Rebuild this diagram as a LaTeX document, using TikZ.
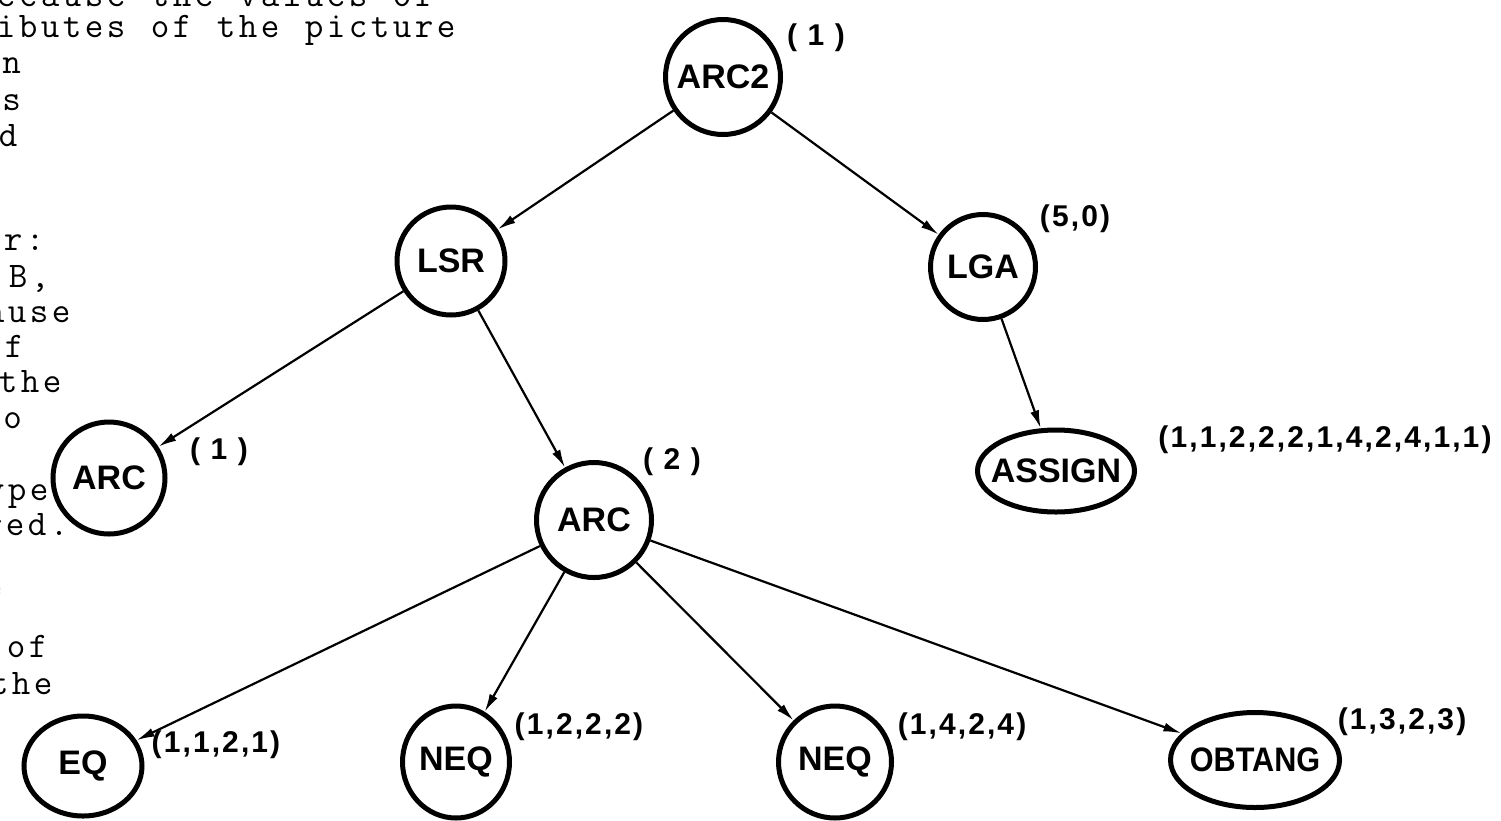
\documentclass[tikz,border=0pt]{standalone}
\usepackage{fontspec}
\usetikzlibrary{arrows.meta,shapes.geometric}
\newfontfamily\handfont{Liberation Sans}
\newfontfamily\tagfont{Liberation Sans}[LetterSpace=7]
% typewriter text on a fixed 22pt character grid
\newcommand\typecells[1]{\tcloop#1\relax}
\def\tcloop#1{\ifx\relax#1\else\hbox to 22pt{\hss#1\hss}\expandafter\tcloop\fi}
% label that does not widen its node
\newcommand\zerowide[1]{\makebox[0pt]{#1}}
\begin{document}
\begin{tikzpicture}[x=1pt,y=-1pt,
  vtx/.style={circle,draw,line width=5pt,inner sep=0pt,
    font=\handfont\bfseries\fontsize{34}{34}\selectfont},
  ovl/.style={ellipse,draw,line width=5pt,inner sep=0pt,
    font=\handfont\bfseries\fontsize{34}{34}\selectfont},
  edge/.style={line width=2.2pt,-{Latex[length=18pt,width=9pt]}},
  tag/.style={inner sep=0pt,font=\tagfont\bfseries\fontsize{30}{30}\selectfont},
  typ/.style={anchor=base west,inner sep=0pt,
    font=\ttfamily\fontsize{36}{36}\selectfont}]
\clip (0,0) rectangle (1501,820);
\fill[white] (0,0) rectangle (1501,820);

% running text of the page, cut at the left margin
\node[typ] (t1)  at (-5,6)    {\typecells{ecause~the~values~of}};
\node[typ] (t2)  at (-5,37)   {\typecells{ibutes~of~the~picture}};
\node[typ] (t3)  at (0.5,73)  {\typecells{n}};
\node[typ] (t4)  at (0.5,110) {\typecells{s}};
\node[typ] (t5)  at (-3,146)  {\typecells{d}};
\node[typ] (t6)  at (2,250)   {\typecells{r:}};
\node[typ] (t7)  at (7,287)   {\typecells{B,}};
\node[typ] (t8)  at (-16,322) {\typecells{ause}};
\node[typ] (t9)  at (3,357)   {\typecells{f}};
\node[typ] (t10) at (-3,392)  {\typecells{the}};
\node[typ] (t11) at (1.5,428) {\typecells{o}};
\node[typ] (t12) at (-16,500) {\typecells{ype}};
\node[typ] (t13) at (-18,535) {\typecells{red.}};
\node[typ] (t14) at (-18,597) {\typecells{e}};
\node[typ] (t15) at (5,657)   {\typecells{of}};
\node[typ] (t16) at (-12,694) {\typecells{the}};

% tree nodes
\node[vtx,minimum size=115pt] (arctop) at (723,77)  {ARC2};
\node[vtx,minimum size=108pt] (lsr)    at (451,261) {LSR};
\node[vtx,minimum size=105pt] (lga)    at (983,267) {LGA};
\node[vtx,minimum size=112pt] (arcl)   at (109,478) {ARC};
\node[vtx,minimum size=115pt] (arcm)   at (594,520) {ARC};
\node[ovl,minimum width=157pt,minimum height=82pt]  (assign) at (1056,471) {\zerowide{ASSIGN}};
\node[ovl,minimum width=118pt,minimum height=100pt] (eq)     at (83,766)   {\zerowide{EQ}};
\node[ovl,minimum width=107pt,minimum height=112pt] (neqa)   at (456,762)  {\zerowide{NEQ}};
\node[ovl,minimum width=113pt,minimum height=112pt] (neqb)   at (835,762)  {\zerowide{NEQ}};
\node[ovl,minimum width=169pt,minimum height=95pt]  (obtang) at (1255,760) {\zerowide{\scalebox{0.9}[1]{OBTANG}}};

% attribute vectors
\node[tag] (v1)  at (816,38)   {( 1 )};
\node[tag] (v2)  at (1075,219) {(5,0)};
\node[tag] (v3)  at (219,452)  {( 1 )};
\node[tag] (v4)  at (672,462)  {( 2 )};
\node[tag] (v5)  at (1325,440) {(1,1,2,2,2,1,4,2,4,1,1)};
\node[tag] (v6)  at (216,745)  {(1,1,2,1)};
\node[tag] (v7)  at (579,727)  {(1,2,2,2)};
\node[tag] (v8)  at (962,727)  {(1,4,2,4)};
\node[tag] (v9)  at (1402,722) {(1,3,2,3)};

% connectors
\draw[edge] (arctop) -- (lsr);
\draw[edge] (arctop) -- (lga);
\draw[edge] (lsr) -- (arcl);
\draw[edge] (lsr) -- (arcm);
\draw[edge] (lga) -- (assign);
\draw[edge] (arcm) -- (eq);
\draw[edge] (arcm) -- (neqa);
\draw[edge] (arcm) -- (neqb);
\draw[edge] (arcm) -- (obtang);
\end{tikzpicture}
\end{document}
